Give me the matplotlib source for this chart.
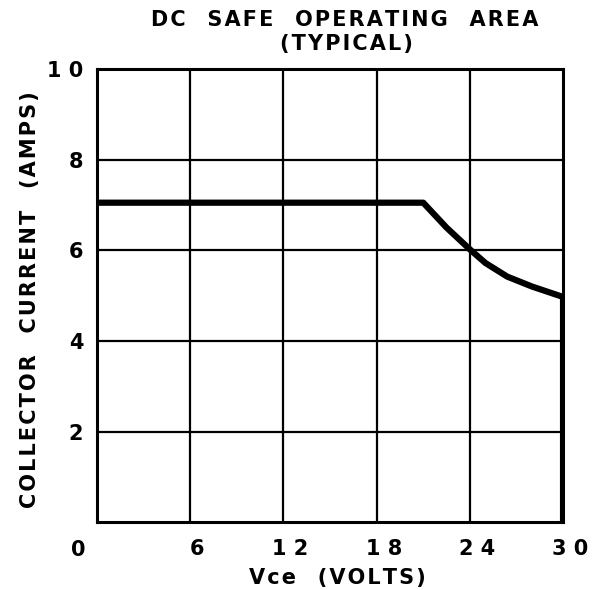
import matplotlib
matplotlib.use("Agg")
import matplotlib.pyplot as plt
from matplotlib.transforms import ScaledTranslation

plt.rcParams['font.family'] = ['DejaVu Sans']

# Data
vce = [0, 21, 22.5, 24, 25, 26.4, 28, 30, 30]
current = [7.05, 7.05, 6.5, 6.02, 5.72, 5.42, 5.2, 4.97, 0]
x_ticks = [6, 12, 18, 24, 30]
x_tick_labels = ["6", "1 2", "1 8", "2 4", "3 0"]
y_ticks = [2, 4, 6, 8, 10]
y_tick_labels = ["2", "4", "6", "8", "1 0"]
title1 = "DC  SAFE  OPERATING  AREA"
title2 = "(TYPICAL)"
xlabel = "Vce  (VOLTS)"
ylabel = "COLLECTOR  CURRENT  (AMPS)"


def spaced(s, extra_word=1):
    out = []
    for i, ch in enumerate(s):
        out.append(ch)
        if ch == ' ':
            continue
        if i + 1 < len(s) and s[i + 1] != ' ':
            out.append('\u200a')
    res = ''.join(out)
    return res.replace('  ', ' ' * (2 + extra_word))


fs = 15
W, H = 599, 590
fig = plt.figure(figsize=(W / 100, H / 100), dpi=100)
ax = fig.add_axes([0.162, 0.115, 0.778, 0.768])
ax.set_xlim(0, 30)
ax.set_ylim(0, 10)

for x in x_ticks[:-1]:
    ax.axvline(x, color='black', lw=1.6, zorder=1)
for y in y_ticks[:-1]:
    ax.axhline(y, color='black', lw=1.6, zorder=1)

ax.plot(vce, current, color='black', lw=4.5, solid_joinstyle='round', zorder=3)

for s in ax.spines.values():
    s.set_linewidth(2.2)

ax.set_xticks(x_ticks)
ax.set_xticklabels(x_tick_labels, fontsize=fs, fontweight='bold')
ax.set_yticks(y_ticks)
ax.set_yticklabels(y_tick_labels, fontsize=fs, fontweight='bold')
ax.tick_params(length=0)
ax.tick_params(axis='x', pad=12)
ax.tick_params(axis='y', pad=10)
off = ScaledTranslation(7 / 100, 0, fig.dpi_scale_trans)
for lbl in ax.get_xticklabels():
    lbl.set_transform(lbl.get_transform() + off)
ax.text(-1.2, -0.4, "0", fontsize=fs, fontweight='bold', ha='center', va='top')

fig.text(337 / W, 1 - 578 / H, spaced(xlabel, 1), fontsize=fs, fontweight='bold',
         ha='center', va='center')
fig.text(30 / W, 1 - 300 / H, spaced(ylabel, 1), fontsize=fs, fontweight='bold',
         ha='center', va='center', rotation=90)

fig.text(345 / W, 1 - 20 / H, spaced(title1, 1), fontsize=fs, fontweight='bold',
         ha='center', va='center')
fig.text(346 / W, 1 - 44 / H, spaced(title2, 1), fontsize=fs, fontweight='bold',
         ha='center', va='center')

fig.savefig("out.png", dpi=100)
